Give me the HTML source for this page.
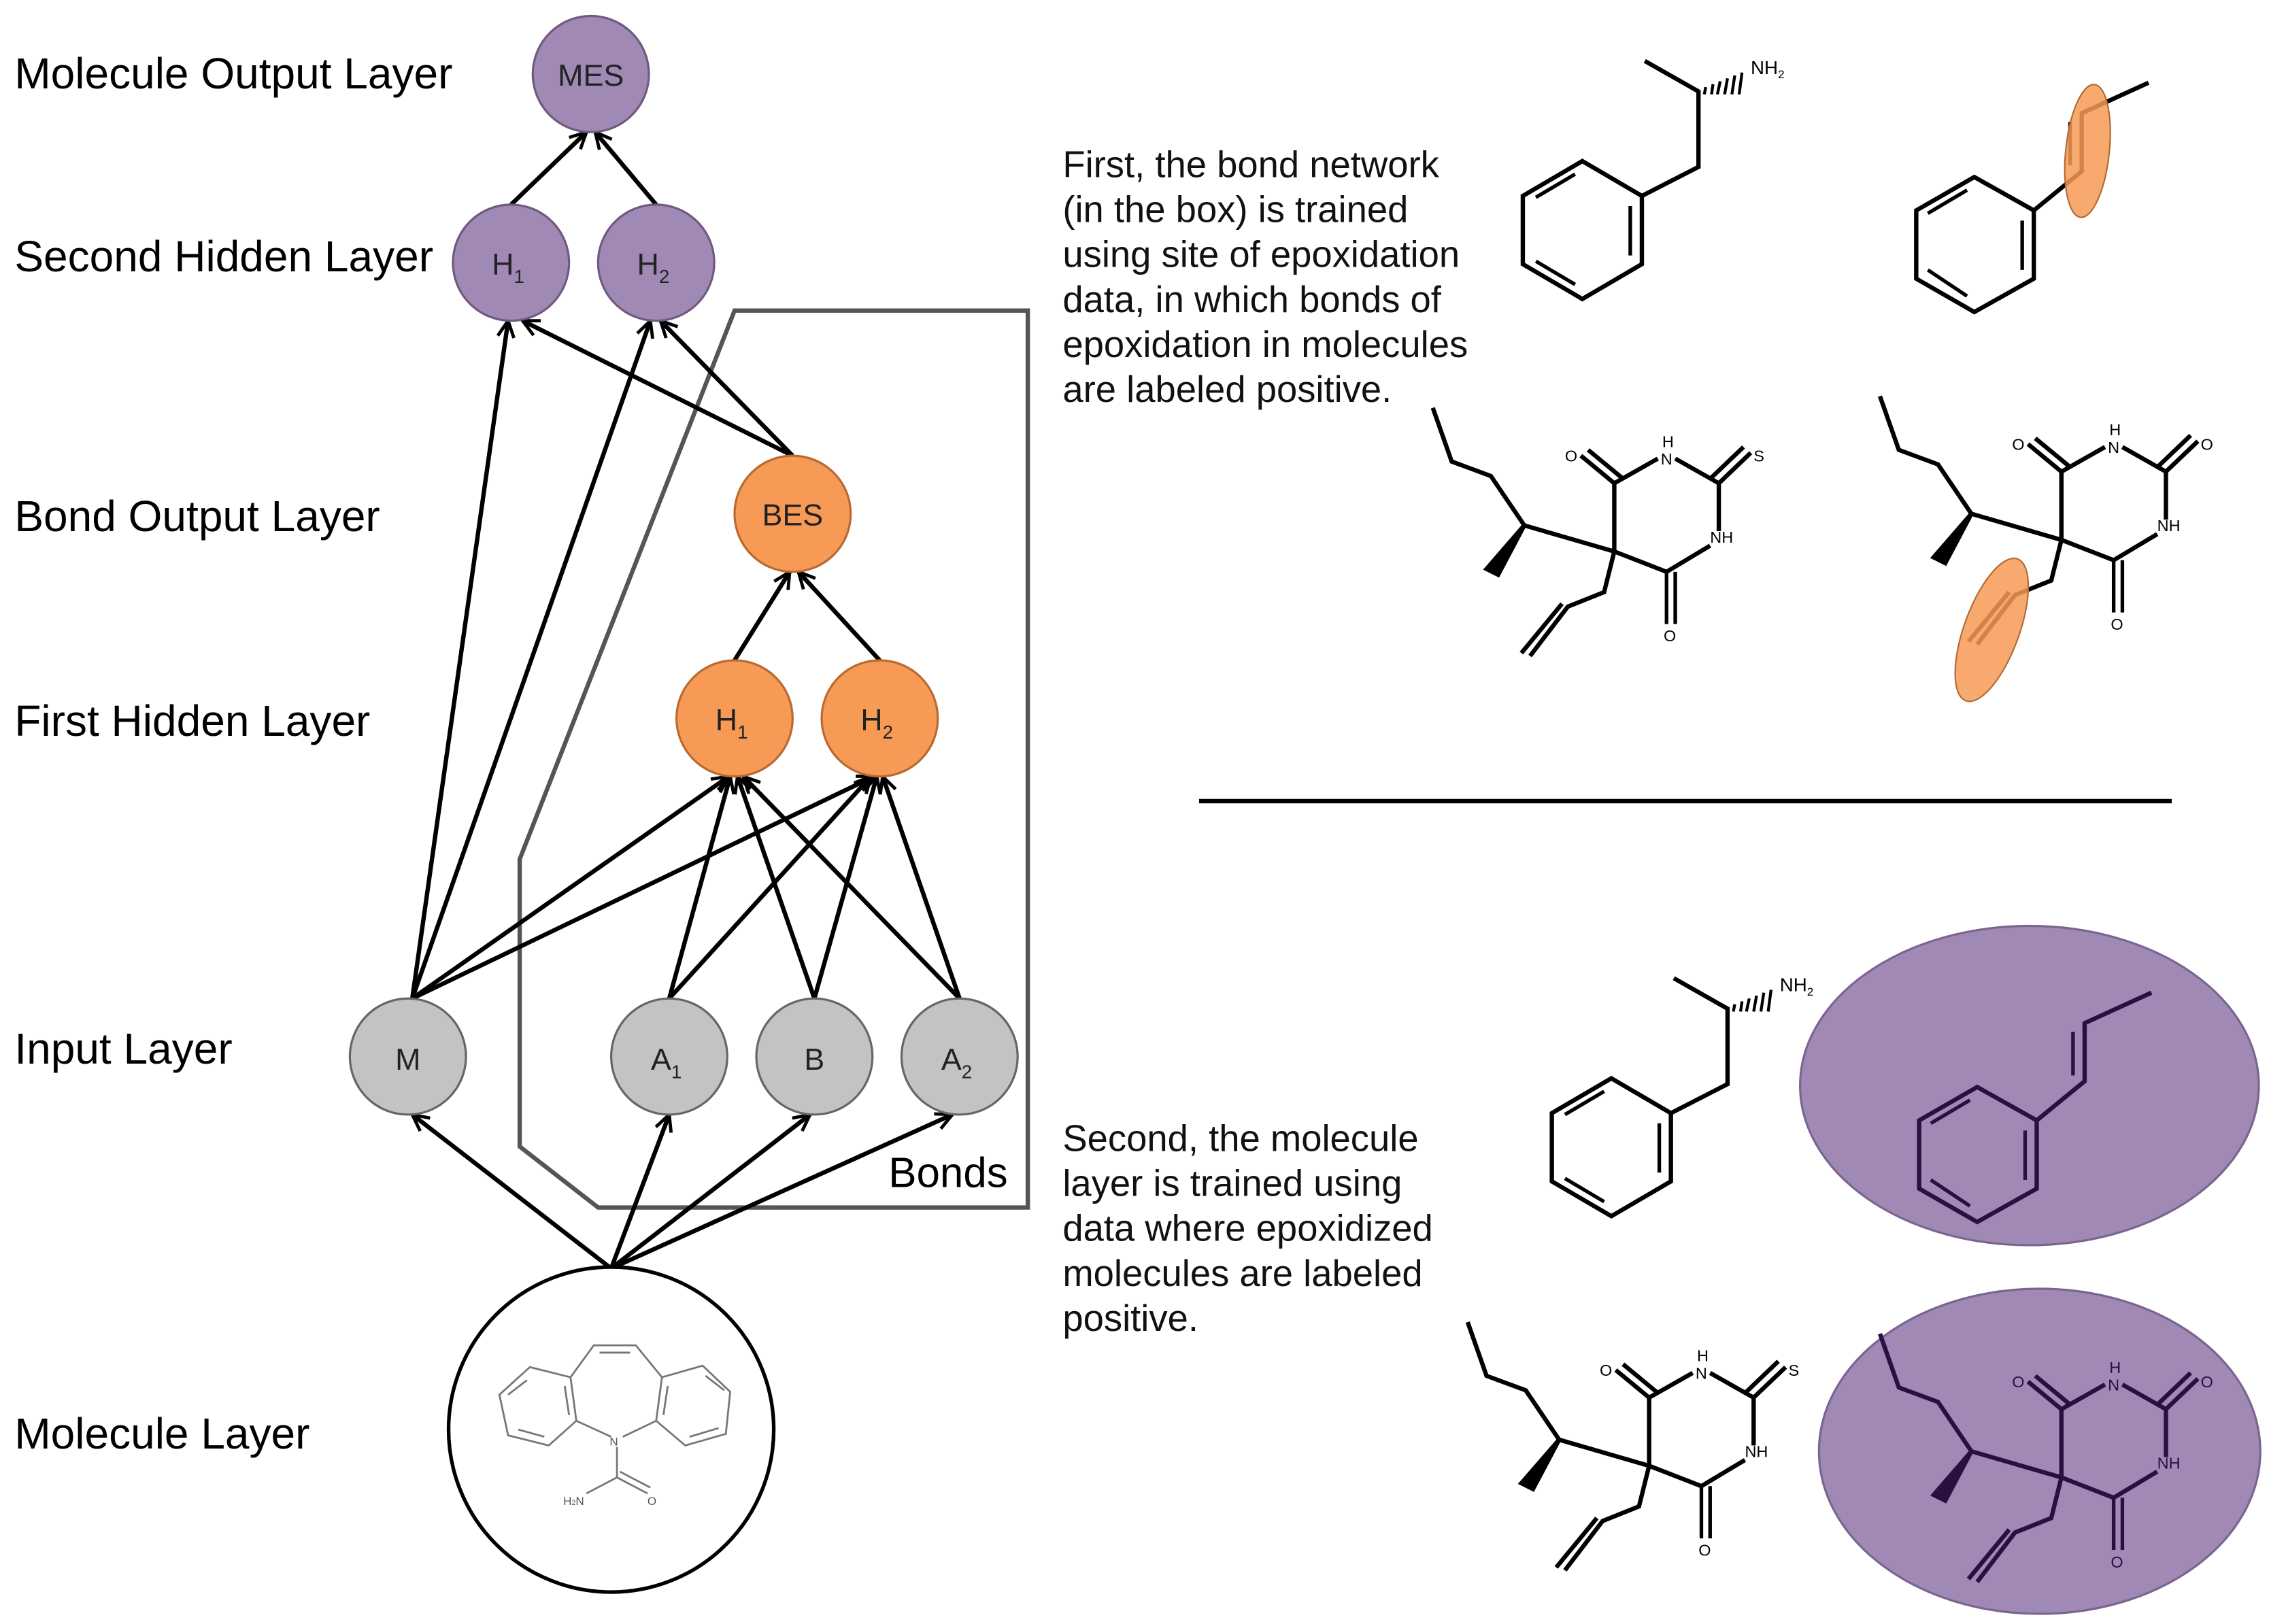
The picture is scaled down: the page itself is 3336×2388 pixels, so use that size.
<!DOCTYPE html>
<html><head><meta charset="utf-8"><style>
html,body{margin:0;padding:0;background:#fff;}
svg{display:block;}
text{font-family:"Liberation Sans",sans-serif;}
</style></head><body>
<svg width="3336" height="2388" viewBox="0 0 1563 1119" preserveAspectRatio="none" xmlns="http://www.w3.org/2000/svg">
<defs>
<marker id="a" viewBox="0 0 10 10" refX="9" refY="5" markerWidth="14" markerHeight="14" orient="auto" markerUnits="userSpaceOnUse">
<path d="M1,1 L9,5 L1,9" fill="none" stroke="#000" stroke-width="1.6"/>
</marker>
<g id="amph" fill="none" stroke-width="3">
<path d="M0,-47 L41,-23 L41,24 L0,48 L-41,24 L-41,-23 Z"/>
<path d="M33,-16 L33,18 M-5,-38 L-32,-22 M-32,22 L-5,38" stroke-width="2.5"/>
<path d="M41,-23 L80,-43 L80,-95 L43,-116"/>
<path d="M85,-98 l-1,5 M90,-100 l-1,7 M95,-102 l-2,9 M100,-104 l-2,11 M105,-106 l-2,13 M110,-108 l-2,15" stroke-width="2"/>
<text x="116" y="-107" font-size="13" fill="currentColor" stroke="none">NH<tspan font-size="8" dy="3">2</tspan></text>
</g>
<g id="styr" fill="none" stroke-width="3">
<path d="M0,-44 L41,-21 L41,26 L0,49 L-40,26 L-40,-21 Z"/>
<path d="M33,-14 L33,20 M-5,-35 L-32,-19 M-32,20 L-5,38" stroke-width="2.5"/>
<path d="M41,-21 L74,-48 L74,-88 L120,-109"/>
<path d="M66,-52 L66,-82" stroke-width="2.5"/>
</g>
<g id="barb" fill="none" stroke-width="3">
<path d="M-125,-99 L-112,-62 L-85,-52 L-62,-18 L0,0"/>
<path d="M-62,-18 L-88,12 L-80,16 Z" fill="currentColor"/>
<path d="M0,0 L0,-47 L30,-64 M42,-64 L72,-47 L72,-14 M66,-4 L36,14 L0,0"/>
<path d="M0,-47 L-23,-66 M5,-51 L-18,-70"/>
<path d="M72,-47 L94,-68 M67,-51 L89,-72"/>
<path d="M36,14 L36,50 M42,14 L42,50" stroke-width="2.5"/>
<path d="M0,0 L-7,28 L-32,38 L-58,72 M-36,36 L-64,70" />
<text x="-34" y="-62" font-size="11" fill="currentColor" stroke="none">O</text>
<text x="32" y="-60" font-size="11" fill="currentColor" stroke="none">N</text>
<text x="33" y="-72" font-size="11" fill="currentColor" stroke="none">H</text>
<text x="66" y="-6" font-size="11" fill="currentColor" stroke="none">NH</text>
<text x="34" y="62" font-size="11" fill="currentColor" stroke="none">O</text>
</g>
</defs>

<g font-size="30" fill="#000">
<text x="10" y="61">Molecule Output Layer</text>
<text x="10" y="187">Second Hidden Layer</text>
<text x="10" y="366">Bond Output Layer</text>
<text x="10" y="507">First Hidden Layer</text>
<text x="10" y="733">Input Layer</text>
<text x="10" y="998">Molecule Layer</text>
</g>

<path d="M506,214 L708,214 L708,832 L412,832 L358,790 L358,592 Z" fill="none" stroke="#555" stroke-width="3"/>
<text x="612" y="818" font-size="29">Bonds</text>

<g stroke="#000" stroke-width="3" marker-end="url(#a)" fill="none">
<line x1="352" y1="141" x2="404" y2="91"/>
<line x1="452" y1="141" x2="410" y2="91"/>
<line x1="546" y1="314" x2="360" y2="221"/>
<line x1="546" y1="314" x2="455" y2="221"/>
<line x1="506" y1="455" x2="544" y2="394"/>
<line x1="606" y1="455" x2="550" y2="394"/>
<line x1="284" y1="688" x2="350" y2="221"/>
<line x1="284" y1="688" x2="448" y2="221"/>
<line x1="284" y1="688" x2="502" y2="535"/>
<line x1="284" y1="688" x2="602" y2="535"/>
<line x1="461" y1="688" x2="503" y2="535"/>
<line x1="461" y1="688" x2="600" y2="535"/>
<line x1="561" y1="688" x2="508" y2="535"/>
<line x1="561" y1="688" x2="604" y2="535"/>
<line x1="661" y1="688" x2="512" y2="535"/>
<line x1="661" y1="688" x2="608" y2="535"/>
<line x1="421" y1="874" x2="284" y2="768"/>
<line x1="421" y1="874" x2="461" y2="768"/>
<line x1="421" y1="874" x2="558" y2="768"/>
<line x1="421" y1="874" x2="656" y2="768"/>
</g>

<g stroke="#6f5a80" stroke-width="1.5" fill="#a089b4">
<circle cx="407" cy="51" r="40"/>
<circle cx="352" cy="181" r="40"/>
<circle cx="452" cy="181" r="40"/>
</g>
<g stroke="#b86a30" stroke-width="1.5" fill="#f79a55">
<circle cx="546" cy="354" r="40"/>
<circle cx="506" cy="495" r="40"/>
<circle cx="606" cy="495" r="40"/>
</g>
<g stroke="#666" stroke-width="1.5" fill="#c3c3c3">
<circle cx="281" cy="728" r="40"/>
<circle cx="461" cy="728" r="40"/>
<circle cx="561" cy="728" r="40"/>
<circle cx="661" cy="728" r="40"/>
</g>
<g font-size="21" fill="#222" text-anchor="middle">
<text x="407" y="59">MES</text>
<text x="350" y="189">H<tspan font-size="13" dy="6">1</tspan></text>
<text x="450" y="189">H<tspan font-size="13" dy="6">2</tspan></text>
<text x="546" y="362">BES</text>
<text x="504" y="503">H<tspan font-size="13" dy="6">1</tspan></text>
<text x="604" y="503">H<tspan font-size="13" dy="6">2</tspan></text>
<text x="281" y="737">M</text>
<text x="459" y="737">A<tspan font-size="13" dy="6">1</tspan></text>
<text x="561" y="737">B</text>
<text x="659" y="737">A<tspan font-size="13" dy="6">2</tspan></text>
</g>

<circle cx="421" cy="985" r="112" fill="#fff" stroke="#000" stroke-width="2.5"/>
<g stroke="#777" stroke-width="1.3" fill="none">
<path d="M365,942 L393,949 L397,979 L378,996 L350,989 L344,961 Z"/>
<path d="M350,961 L363,951 M389,955 L392,975 M357,985 L375,990"/>
<path d="M456,949 L484,941 L503,959 L500,988 L472,996 L452,979 Z"/>
<path d="M460,955 L457,975 M486,948 L499,958 M495,984 L475,990"/>
<path d="M393,949 L409,927 L438,927 L456,949 M413,932 L434,932"/>
<path d="M397,979 L421,990 M429,990 L452,979 M425,997 L425,1018 L404,1029 M425,1018 L446,1029 M427,1014 L448,1025"/>
</g>
<text x="388" y="1037" font-size="8" fill="#555">H<tspan font-size="5">2</tspan>N</text>
<text x="420" y="996" font-size="8" fill="#555">N</text>
<text x="446" y="1037" font-size="8" fill="#555">O</text>

<g font-size="25.5" fill="#111">
<text x="732" y="122">First, the bond network</text>
<text x="732" y="153">(in the box) is trained</text>
<text x="732" y="184">using site of epoxidation</text>
<text x="732" y="215">data, in which bonds of</text>
<text x="732" y="246">epoxidation in molecules</text>
<text x="732" y="277">are labeled positive.</text>
<text x="732" y="793">Second, the molecule</text>
<text x="732" y="824">layer is trained using</text>
<text x="732" y="855">data where epoxidized</text>
<text x="732" y="886">molecules are labeled</text>
<text x="732" y="917">positive.</text>
</g>

<line x1="826" y1="552" x2="1496" y2="552" stroke="#000" stroke-width="3"/>

<ellipse cx="1398" cy="748" rx="158" ry="110" fill="#a089b4" stroke="#7a6590" stroke-width="1.5"/>
<ellipse cx="1405" cy="1000" rx="152" ry="112" fill="#a089b4" stroke="#7a6590" stroke-width="1.5"/>

<use href="#amph" x="1090" y="158" stroke="#000" color="#000"/>
<use href="#styr" x="1360" y="166" stroke="#000" color="#000"/>
<ellipse cx="1438" cy="104" rx="15" ry="46" transform="rotate(6 1438 104)" fill="#f79a55" fill-opacity="0.85" stroke="#b06a35" stroke-width="1"/>
<use href="#barb" x="1112" y="380" stroke="#000" color="#000"/>
<use href="#barb" x="1420" y="372" stroke="#000" color="#000"/>
<ellipse cx="1372" cy="434" rx="19" ry="52" transform="rotate(20 1372 434)" fill="#f79a55" fill-opacity="0.85" stroke="#b06a35" stroke-width="1"/>

<use href="#amph" x="1110" y="790" stroke="#000" color="#000"/>
<use href="#styr" x="1362" y="793" stroke="#2a1040" color="#2a1040"/>
<use href="#barb" x="1136" y="1010" stroke="#000" color="#000"/>
<use href="#barb" x="1420" y="1018" stroke="#2a1040" color="#2a1040"/>

<g font-size="11">
<text x="1208" y="318" fill="#000">S</text>
<text x="1516" y="310" fill="#000">O</text>
<text x="1232" y="948" fill="#000">S</text>
<text x="1516" y="956" fill="#2a1040">O</text>
</g>
</svg>
</body></html>
